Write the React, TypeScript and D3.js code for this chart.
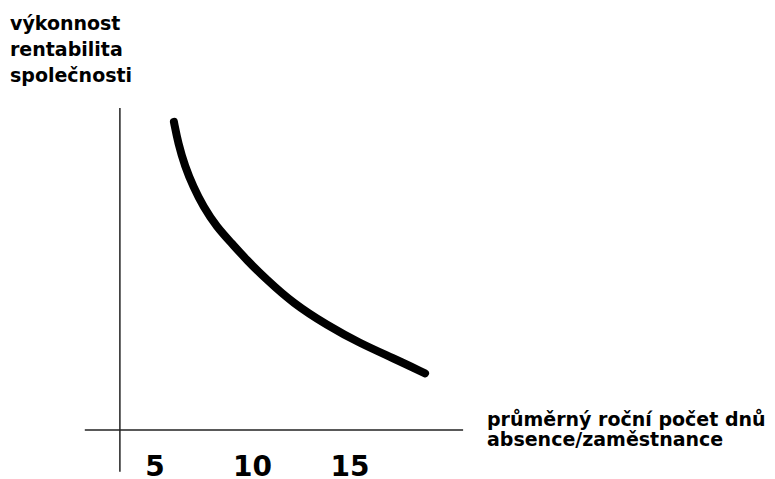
import * as d3 from "d3";

// values (x: days of absence per employee, y: relative performance)
const absenceDays = [5.97, 6.19, 6.54, 6.96, 7.48, 8.16, 8.93, 9.7, 10.69, 12.09, 13.81, 15.51, 17.22, 18.85];
const performance = [95.7, 89.0, 81.8, 75.6, 69.3, 63.1, 58.0, 52.8, 46.9, 39.3, 32.6, 26.9, 22.3, 17.6];
const xTicks = [5, 10, 15];
const yLabelLines = ["výkonnost", "rentabilita", "společnosti"];
const xLabelLines = ["průměrný roční počet dnů", "absence/zaměstnance"];

const W = 775;
const H = 479;

const x = d3.scaleLinear().domain([5, 15]).range([155, 350]);
const y = d3.scaleLinear().domain([0, 100]).range([430, 108]);

const FONT = "'DejaVu Sans', Arial, sans-serif";

const App = () => {
  const pts = absenceDays.map((d, i) => [d, performance[i]] as [number, number]);
  const line = d3
    .line<[number, number]>()
    .x((d) => x(d[0]))
    .y((d) => y(d[1]))
    .curve(d3.curveBasis);

  return (
    <svg
      width={W}
      height={H}
      style={{ position: "absolute", left: 0, top: 0, background: "#fff" }}
    >
      {/* axes */}
      <line x1={x(3.2)} x2={x(3.2)} y1={y(100)} y2={y(-13)} stroke="#222" strokeWidth={1.5} />
      <line x1={x(1.4)} x2={x(20.8)} y1={y(0)} y2={y(0)} stroke="#222" strokeWidth={1.5} />

      <path
        d={line(pts) ?? ""}
        fill="none"
        stroke="#000"
        strokeWidth={8}
        strokeLinecap="round"
        strokeLinejoin="round"
      />

      {xTicks.map((t) => (
        <text
          key={t}
          x={x(t)}
          y={476}
          textAnchor="middle"
          fontFamily={FONT}
          fontWeight="bold"
          fontSize={28}
        >
          {t}
        </text>
      ))}

      {yLabelLines.map((s, i) => (
        <text
          key={s}
          x={10}
          y={30 + i * 26}
          fontFamily={FONT}
          fontWeight="bold"
          fontSize={19}
        >
          {s}
        </text>
      ))}

      {xLabelLines.map((s, i) => (
        <text
          key={s}
          x={487}
          y={426 + i * 20}
          fontFamily={FONT}
          fontWeight="bold"
          fontSize={19}
        >
          {s}
        </text>
      ))}
    </svg>
  );
};

export default App;
